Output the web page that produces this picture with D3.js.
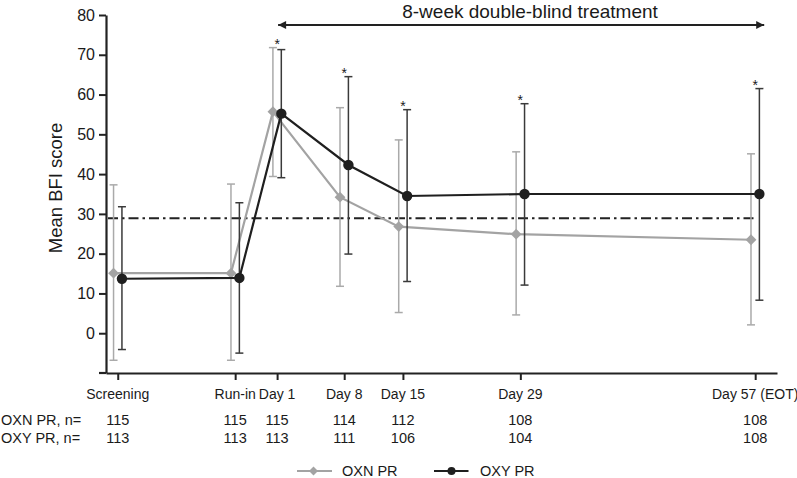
<!DOCTYPE html>
<html>
<head>
<meta charset="utf-8">
<script src="https://cdn.jsdelivr.net/npm/d3@7"></script>
<style>
  body { margin: 0; background: #fff; }
  svg { display: block; font-family: "Liberation Sans", Arial, sans-serif; }
</style>
</head>
<body>
<div id="app"></div>
<script>
// visits and the study day they are plotted at
const visits = ['Screening', 'Run-in', 'Day 1', 'Day 8', 'Day 15', 'Day 29', 'Day 57 (EOT)'];
const visitDay = [-19, -5, 0, 8, 15, 29, 57];

// OXN PR
const oxnMean = [15.1, 15.1, 55.7, 34.2, 26.8, 24.9, 23.5];
const oxnUpper = [37.3, 37.5, 71.8, 56.7, 48.6, 45.6, 45.1];
const oxnLower = [-6.8, -6.8, 39.4, 11.8, 5.2, 4.6, 2.1];
const oxnN = [115, 115, 115, 114, 112, 108, 108];

// OXY PR
const oxyMean = [13.7, 13.9, 55.2, 42.3, 34.5, 35.0, 35.0];
const oxyUpper = [31.8, 32.8, 71.3, 64.5, 56.2, 57.7, 61.5];
const oxyLower = [-4.1, -5.0, 39.1, 19.9, 13.0, 12.1, 8.3];
const oxyN = [113, 113, 113, 111, 106, 104, 108];

const significant = [false, false, true, true, true, true, true];
const referenceLine = 28.9;
const yTicks = [0, 10, 20, 30, 40, 50, 60, 70, 80];

const width = 797;
const height = 478;

const gray = '#a3a3a3';
const dark = '#1f1f1f';
const ink = '#1a1a1a';

const x = d3.scaleLinear().domain([-20.4, 59.6]).range([106, 777]);
const y = d3.scaleLinear().domain([-10, 80]).range([373, 15]);

const svg = d3.create('svg').attr('width', width).attr('height', height);

// y axis
const yAxis = svg.append('g')
	.attr('transform', `translate(${x.range()[0]},0)`)
	.call(d3.axisLeft(y).tickValues(yTicks).tickSize(7).tickSizeOuter(0).tickPadding(4));
yAxis.select('.domain').attr('stroke', '#222').attr('stroke-width', 2.2);
yAxis.selectAll('.tick line').attr('stroke', '#222').attr('stroke-width', 2);
yAxis.selectAll('.tick text').attr('fill', ink).style('font-size', '16px').style('font-family', 'Liberation Sans, Arial, sans-serif');

// x axis
const xAxis = svg.append('g')
	.attr('transform', `translate(0,${y.range()[0]})`)
	.call(d3.axisBottom(x).tickValues(visitDay).tickFormat('').tickSize(7).tickSizeOuter(0));
xAxis.select('.domain').attr('stroke', '#222').attr('stroke-width', 2.2);
xAxis.selectAll('.tick line').attr('stroke', '#222').attr('stroke-width', 2);
xAxis.append('line')
	.attr('x1', x.range()[0] - 7).attr('x2', x.range()[0])
	.attr('stroke', '#222').attr('stroke-width', 2.2);

svg.append('g')
	.selectAll('text')
	.data(visits)
	.join('text')
	.attr('x', (d, i) => x(visitDay[i]))
	.attr('y', 399)
	.attr('text-anchor', 'middle')
	.attr('fill', ink)
	.style('font-size', '14px')
	.text((d) => d);

// y label
svg.append('text')
	.attr('transform', 'translate(62,188) rotate(-90)')
	.attr('text-anchor', 'middle')
	.attr('fill', ink)
	.style('font-size', '18.5px')
	.text('Mean BFI score');

// n rows
const nRows = [
	{ label: 'OXN PR, n=', values: oxnN, yy: 425 },
	{ label: 'OXY PR, n=', values: oxyN, yy: 443 }
];
nRows.forEach((row) => {
	const g = svg.append('g').style('font-size', '14.5px').attr('fill', ink);
	g.append('text').attr('x', 1).attr('y', row.yy).text(row.label);
	g.selectAll('text.n')
		.data(row.values)
		.join('text')
		.attr('class', 'n')
		.attr('x', (d, i) => x(visitDay[i]))
		.attr('y', row.yy)
		.attr('text-anchor', 'middle')
		.text((d) => d);
});

// dash-dot reference line
svg.append('line')
	.attr('x1', x.range()[0] + 2)
	.attr('x2', x(visitDay[visitDay.length - 1]) + 1)
	.attr('y1', y(referenceLine))
	.attr('y2', y(referenceLine))
	.attr('stroke', '#222')
	.attr('stroke-width', 1.8)
	.attr('stroke-dasharray', '10,4,2.5,4');

// treatment arrow
const arrowY = 25;
const defs = svg.append('defs');
['start', 'end'].forEach((k) => {
	defs.append('marker')
		.attr('id', 'arrow-' + k)
		.attr('viewBox', '0 0 10 10')
		.attr('refX', k === 'end' ? 10 : 0)
		.attr('refY', 5)
		.attr('markerWidth', 5)
		.attr('markerHeight', 4)
		.attr('markerUnits', 'strokeWidth')
		.attr('orient', 'auto')
		.append('path')
		.attr('d', k === 'end' ? 'M0,0 L10,5 L0,10 Z' : 'M10,0 L0,5 L10,10 Z')
		.attr('fill', '#222');
});
svg.append('line')
	.attr('x1', x(visitDay[2]) + 1)
	.attr('x2', x(visitDay[6]) + 9)
	.attr('y1', arrowY)
	.attr('y2', arrowY)
	.attr('stroke', '#222')
	.attr('stroke-width', 2)
	.attr('marker-start', 'url(#arrow-start)')
	.attr('marker-end', 'url(#arrow-end)');
svg.append('text')
	.attr('x', 530)
	.attr('y', 18)
	.attr('text-anchor', 'middle')
	.attr('fill', ink)
	.style('font-size', '19px')
	.text('8-week double-blind treatment');

// series
const series = [
	{ name: 'OXN PR', mean: oxnMean, upper: oxnUpper, lower: oxnLower, dx: -4.2, color: gray, barColor: '#aaaaaa', shape: 'diamond' },
	{ name: 'OXY PR', mean: oxyMean, upper: oxyUpper, lower: oxyLower, dx: 4.2, color: dark, barColor: '#3a3a3a', shape: 'circle' }
];

function drawMarker(g, shape, cx, cy, size, color) {
	if (shape === 'diamond') {
		g.append('path')
			.attr('d', `M${cx},${cy - size} L${cx + size},${cy} L${cx},${cy + size} L${cx - size},${cy} Z`)
			.attr('fill', color);
	} else {
		g.append('circle').attr('cx', cx).attr('cy', cy).attr('r', size).attr('fill', color);
	}
}

series.forEach((s) => {
	const g = svg.append('g');
	const px = (i) => x(visitDay[i]) + s.dx;
	// error bars
	visitDay.forEach((d, i) => {
		const bx = px(i);
		g.append('line').attr('x1', bx).attr('x2', bx).attr('y1', y(s.upper[i])).attr('y2', y(s.lower[i]))
			.attr('stroke', s.barColor).attr('stroke-width', 1.5);
		[s.upper[i], s.lower[i]].forEach((v) => {
			g.append('line').attr('x1', bx - 4).attr('x2', bx + 4).attr('y1', y(v)).attr('y2', y(v))
				.attr('stroke', s.barColor).attr('stroke-width', 1.5);
		});
	});
	// line
	g.append('path')
		.datum(s.mean)
		.attr('fill', 'none')
		.attr('stroke', s.color)
		.attr('stroke-width', 2.2)
		.attr('d', d3.line().x((d, i) => px(i)).y((d) => y(d)));
	s.mean.forEach((v, i) => drawMarker(g, s.shape, px(i), y(v), s.shape === 'diamond' ? 5.4 : 5.2, s.color));
});

// asterisks
svg.append('g')
	.selectAll('text')
	.data(visitDay.filter((d, i) => significant[i]))
	.join('text')
	.attr('x', (d) => x(d))
	.attr('y', (d) => {
		const i = visitDay.indexOf(d);
		return y(Math.max(oxnUpper[i], oxyUpper[i])) + 1;
	})
	.attr('text-anchor', 'middle')
	.attr('fill', ink)
	.style('font-size', '14px')
	.text('*');

// legend
const legendY = 471;
const legend = svg.append('g');
[
	{ s: series[0], x0: 297, x1: 332, mx: 313.5, tx: 342 },
	{ s: series[1], x0: 434, x1: 468.5, mx: 451.5, tx: 480 }
].forEach((it) => {
	legend.append('line').attr('x1', it.x0).attr('x2', it.x1).attr('y1', legendY).attr('y2', legendY)
		.attr('stroke', it.s.color).attr('stroke-width', 2.2);
	drawMarker(legend, it.s.shape, it.mx, legendY, it.s.shape === 'diamond' ? 4.5 : 4, it.s.color);
	legend.append('text').attr('x', it.tx).attr('y', legendY + 5).attr('fill', ink)
		.style('font-size', '14.5px').text(it.s.name);
});

document.getElementById('app').append(svg.node());
</script>
</body>
</html>
